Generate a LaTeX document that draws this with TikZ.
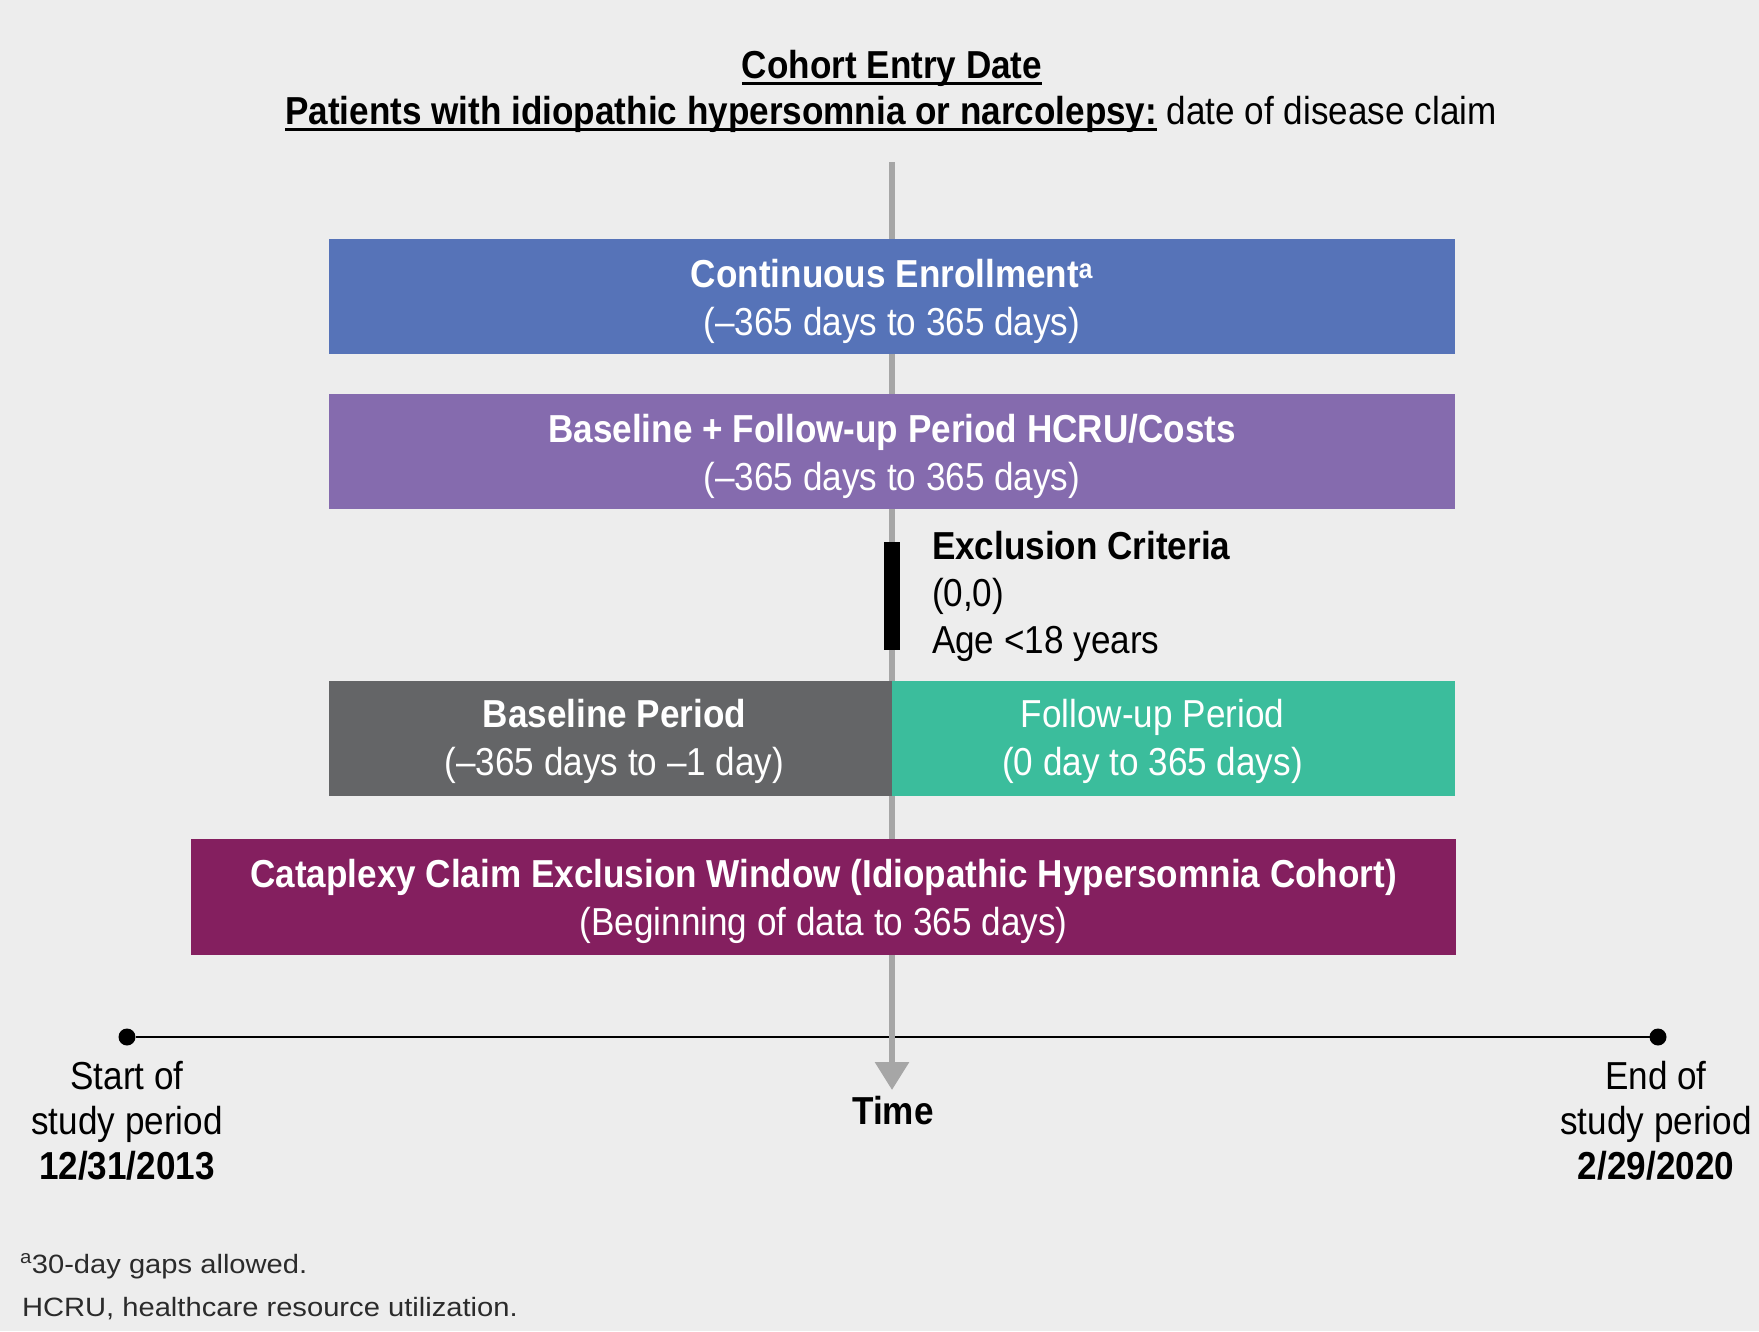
\documentclass[tikz,border=0pt]{standalone}
\usepackage{fontspec}
\setmainfont{Liberation Sans}[FakeStretch=0.9]
\newfontfamily\notefont{Liberation Sans}[FakeStretch=1.1]
\usetikzlibrary{arrows.meta}

\definecolor{bg}{HTML}{EDEDED}
\definecolor{enroll}{HTML}{5673B8}
\definecolor{hcru}{HTML}{856BAE}
\definecolor{basegray}{HTML}{646567}
\definecolor{follow}{HTML}{3BBD9C}
\definecolor{cataplexy}{HTML}{841F5F}
\definecolor{timeline}{HTML}{A6A6A6}
\definecolor{notegray}{HTML}{2B2B2B}

% text sizes
\newcommand\boxtext{\fontsize{39}{48}\selectfont}
\newcommand\labeltext{\fontsize{39}{45}\selectfont}
\newcommand\smalltext{\notefont\fontsize{26.5}{30}\selectfont}
% extra room above the first line of a period box
\newcommand\topstrut{\rule{0pt}{38pt}}
% underline at a fixed depth below the baseline
\newcommand\titleul[1]{\setbox0\hbox{#1}\rlap{\rule[-0.17em]{\wd0}{0.07em}}\box0\relax}

\begin{document}
\begin{tikzpicture}[x=1pt,y=-1pt,
  every node/.style={inner sep=0pt, outer sep=0pt},
  period/.style={rectangle, fill=#1, text=white, align=center,
    minimum height=115pt, font=\boxtext},
  boxlabel/.style={text=white, align=center, font=\boxtext},
  dot/.style={circle, fill=black, minimum size=17pt},
  label/.style={align=center, font=\labeltext}]

\fill[bg] (0,0) rectangle (1759,1331);
\useasboundingbox (0,0) rectangle (1759,1331);

% title
\node[anchor=base] (entry) at (892,78)
  {\labeltext\titleul{\textbf{Cohort Entry Date}}};
\node[anchor=base] (cohort) at (891,124)
  {\labeltext\titleul{\textbf{Patients with idiopathic hypersomnia or narcolepsy:}} date of disease claim};

% study period axis
\node[dot] (start) at (127,1037) {};
\node[dot] (end) at (1658,1037) {};
\draw[line width=2.5pt] (start) -- (end);

% time arrow through the entry date
\coordinate (top) at (892,162);
\coordinate (tip) at (892,1090);
\draw[timeline, line width=6pt, -{Triangle[width=33pt,length=28pt]}] (top) -- (tip);

% periods
\node[period=enroll, minimum width=1126pt] (enrollment) at (892,296.5)
  {\topstrut\textbf{Continuous Enrollment\textsuperscript{a}}\\(–365 days to 365 days)};
\node[period=hcru, minimum width=1126pt] (costs) at (892,451.5)
  {\topstrut\textbf{Baseline + Follow-up Period HCRU/Costs}\\(–365 days to 365 days)};

\node[fill=black, minimum width=16pt, minimum height=108pt] (exbar) at (892,596) {};
\node[anchor=north west, align=left, font=\fontsize{39}{47}\selectfont] (exclusion) at (932,531)
  {\textbf{Exclusion Criteria}\\(0,0)\\Age <18 years};

\node[period=basegray, minimum width=563pt] (baseline) at (610.5,738.5) {};
\node[boxlabel] (baselinetext) at ([xshift=4pt,yshift=-3pt]baseline.center)
  {\textbf{Baseline Period}\\(–365 days to –1 day)};
\node[period=follow, minimum width=563pt] (followup) at (1173.5,738.5) {};
\node[boxlabel] (followuptext) at ([xshift=-21pt,yshift=-3pt]followup.center)
  {Follow-up Period\\(0 day to 365 days)};

\node[period=cataplexy, minimum width=1265pt, minimum height=116pt] (window) at (823.5,897)
  {\topstrut\textbf{Cataplexy Claim Exclusion Window (Idiopathic Hypersomnia Cohort)}\\(Beginning of data to 365 days)};

% axis labels
\node[label, anchor=north] (startlbl) at (127,1061)
  {Start of\\study period\\\textbf{12/31/2013}};
\node[label, anchor=north] (endlbl) at (1656,1061)
  {End of\\study period\\\textbf{2/29/2020}};
\node[anchor=base, font=\labeltext] (time) at (893,1124) {\textbf{Time}};

% footnotes
\node[anchor=base west, text=notegray] (note1) at (20,1273)
  {\smalltext\textsuperscript{a}30-day gaps allowed.};
\node[anchor=base west, text=notegray] (note2) at (22,1316)
  {\smalltext HCRU, healthcare resource utilization.};
\end{tikzpicture}
\end{document}
